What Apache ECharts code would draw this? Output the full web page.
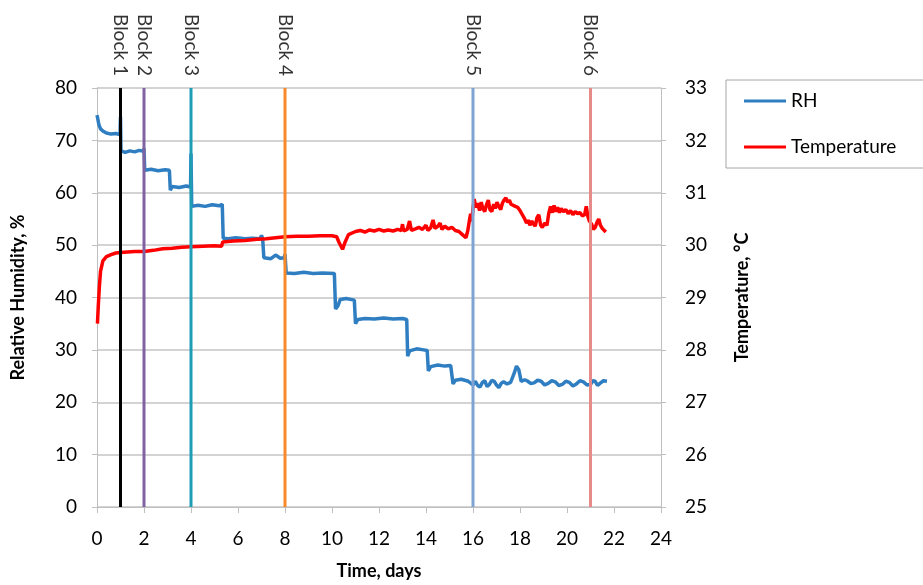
<!DOCTYPE html>
<html>
<head>
<meta charset="utf-8">
<script src="https://cdn.jsdelivr.net/npm/echarts@6/dist/echarts.min.js"></script>
<style>
  html, body { margin: 0; padding: 0; background: #fff; }
  #chart { width: 923px; height: 585px; }
</style>
</head>
<body>
<div id="chart"></div>
<script>
// Relative humidity readings: [day, %RH]
const rhData = [
  [0.00, 74.8], [0.03, 74.2], [0.08, 73.0], [0.15, 72.2], [0.25, 71.8], [0.40, 71.4],
  [0.60, 71.2], [0.80, 71.3], [0.98, 71.1], [1.00, 74.5], [1.02, 68.0], [1.20, 67.7],
  [1.40, 68.0], [1.60, 67.8], [1.80, 68.1], [1.98, 67.9], [2.00, 68.5], [2.03, 64.3],
  [2.30, 64.5], [2.60, 64.2], [2.90, 64.4], [3.08, 64.3], [3.12, 60.5], [3.20, 61.2],
  [3.50, 61.0], [3.80, 61.3], [3.98, 61.1], [4.00, 67.5], [4.03, 57.4], [4.30, 57.6],
  [4.60, 57.4], [4.90, 57.7], [5.20, 57.5], [5.33, 57.8], [5.37, 51.3], [5.60, 51.2],
  [5.90, 51.4], [6.30, 51.2], [6.60, 51.3], [6.95, 51.2], [7.00, 51.9], [7.05, 51.2],
  [7.10, 47.6], [7.40, 47.4], [7.60, 48.1], [7.80, 47.5], [7.97, 47.6], [8.00, 48.3],
  [8.05, 44.7], [8.40, 44.6], [8.80, 44.8], [9.20, 44.6], [9.60, 44.7], [10.10, 44.6],
  [10.15, 37.8], [10.25, 38.4], [10.35, 39.6], [10.60, 39.8], [10.95, 39.5], [11.00, 35.0],
  [11.10, 35.8], [11.40, 36.0], [11.80, 35.9], [12.20, 36.1], [12.60, 35.9], [13.00, 36.0],
  [13.18, 35.8], [13.22, 28.8], [13.30, 29.8], [13.60, 30.2], [13.90, 30.0], [14.05, 29.9],
  [14.10, 26.0], [14.20, 26.8], [14.50, 27.1], [14.80, 26.9], [15.05, 27.0], [15.15, 23.5],
  [15.25, 24.2], [15.50, 24.4], [15.80, 24.0], [16.00, 23.3], [16.10, 24.0], [16.20, 23.2],
  [16.30, 22.9], [16.40, 23.8], [16.50, 24.1], [16.60, 23.0], [16.70, 23.4], [16.80, 24.2],
  [16.90, 24.0], [17.00, 23.3], [17.10, 22.8], [17.20, 23.6], [17.30, 23.9], [17.45, 23.5],
  [17.60, 23.8], [17.75, 25.5], [17.85, 26.9], [17.95, 26.2], [18.05, 24.0], [18.20, 24.3],
  [18.30, 24.1], [18.45, 23.6], [18.60, 23.7], [18.75, 24.2], [18.90, 24.0], [19.05, 23.3],
  [19.20, 23.6], [19.35, 24.1], [19.50, 23.9], [19.65, 23.2], [19.80, 23.4], [19.95, 24.0],
  [20.10, 23.8], [20.25, 23.1], [20.40, 23.5], [20.55, 24.1], [20.70, 23.9], [20.85, 23.3],
  [21.00, 23.4], [21.10, 24.1], [21.20, 24.0], [21.30, 23.2], [21.40, 23.6], [21.55, 24.1],
  [21.70, 24.0]
];

// Temperature readings: [day, °C]
const tempData = [
  [0.02, 28.50], [0.05, 28.80], [0.10, 29.20], [0.15, 29.50], [0.25, 29.70], [0.40, 29.78],
  [0.60, 29.82], [0.80, 29.85], [1.00, 29.86], [1.30, 29.87], [1.60, 29.88], [2.00, 29.88],
  [2.40, 29.90], [2.80, 29.93], [3.20, 29.94], [3.60, 29.96], [4.00, 29.97], [4.50, 29.98],
  [5.00, 29.99], [5.30, 29.98], [5.35, 30.06], [5.80, 30.08], [6.30, 30.09], [6.80, 30.11],
  [7.20, 30.12], [7.60, 30.14], [8.00, 30.16], [8.50, 30.17], [9.00, 30.17], [9.50, 30.18],
  [10.00, 30.18], [10.20, 30.16], [10.30, 30.05], [10.45, 29.92], [10.55, 30.05], [10.70, 30.20],
  [11.00, 30.26], [11.20, 30.28], [11.40, 30.25], [11.60, 30.29], [11.80, 30.27], [12.00, 30.30],
  [12.20, 30.27], [12.40, 30.29], [12.60, 30.27], [12.80, 30.30], [12.95, 30.28], [13.00, 30.40],
  [13.05, 30.27], [13.20, 30.30], [13.30, 30.46], [13.38, 30.28], [13.55, 30.31], [13.70, 30.34],
  [13.85, 30.30], [14.00, 30.38], [14.08, 30.28], [14.20, 30.33], [14.30, 30.48], [14.38, 30.32],
  [14.50, 30.36], [14.60, 30.42], [14.68, 30.30], [14.80, 30.36], [14.95, 30.31], [15.10, 30.34],
  [15.25, 30.28], [15.40, 30.26], [15.55, 30.20], [15.70, 30.14], [15.78, 30.28], [15.85, 30.48],
  [15.90, 30.60], [15.95, 30.45], [16.00, 30.70], [16.05, 30.88], [16.12, 30.72], [16.20, 30.80],
  [16.28, 30.66], [16.35, 30.82], [16.42, 30.70], [16.50, 30.64], [16.58, 30.78], [16.65, 30.86],
  [16.72, 30.68], [16.80, 30.64], [16.88, 30.78], [16.95, 30.70], [17.02, 30.82], [17.10, 30.74],
  [17.18, 30.68], [17.25, 30.80], [17.32, 30.86], [17.40, 30.90], [17.48, 30.82], [17.55, 30.86],
  [17.62, 30.78], [17.70, 30.80], [17.80, 30.74], [17.90, 30.72], [18.00, 30.66], [18.10, 30.58],
  [18.20, 30.50], [18.28, 30.42], [18.35, 30.48], [18.42, 30.38], [18.50, 30.46], [18.58, 30.40],
  [18.65, 30.36], [18.72, 30.52], [18.80, 30.58], [18.88, 30.38], [18.95, 30.34], [19.05, 30.42],
  [19.15, 30.38], [19.22, 30.60], [19.30, 30.74], [19.38, 30.62], [19.45, 30.76], [19.52, 30.64],
  [19.60, 30.72], [19.68, 30.62], [19.75, 30.70], [19.85, 30.64], [19.95, 30.68], [20.05, 30.60],
  [20.15, 30.66], [20.25, 30.58], [20.35, 30.64], [20.45, 30.60], [20.55, 30.62], [20.65, 30.56],
  [20.75, 30.58], [20.82, 30.74], [20.88, 30.56], [20.95, 30.46], [21.05, 30.40], [21.12, 30.30],
  [21.20, 30.34], [21.28, 30.44], [21.35, 30.50], [21.42, 30.38], [21.50, 30.32], [21.58, 30.30],
  [21.65, 30.25]
];

// Block start days and their labels
const blockDays = [1, 2, 4, 8, 16, 21];
const blockNames = ['Block 1', 'Block 2', 'Block 3', 'Block 4', 'Block 5', 'Block 6'];
const blockColors = ['#000000', '#8064a2', '#1f9db5', '#f7892a', '#7fa3d3', '#e8898a'];

// Axis ranges
const rhRange = [0, 80];
const tempRange = [25, 33];
const dayRange = [0, 24];

const FONT = "Lato, 'Liberation Sans', Arial, sans-serif";
const chart = echarts.init(document.getElementById('chart'));

const blockLineSeries = blockDays.map((d, i) => ({
  name: blockNames[i],
  type: 'line',
  data: [[d, rhRange[0]], [d, rhRange[1]]],
  showSymbol: false,
  symbol: 'none',
  silent: true,
  z: 5,
  lineStyle: { color: blockColors[i], width: 3 },
  itemStyle: { color: blockColors[i] }
}));

const blockLabelSeries = {
  name: 'blockLabels',
  type: 'scatter',
  symbolSize: 0,
  silent: true,
  clip: false,
  data: blockDays.map((d, i) => ({ value: [d, rhRange[1]], name: blockNames[i] })),
  label: {
    show: true,
    position: 'top',
    distance: 12,
    rotate: -90,
    align: 'right',
    verticalAlign: 'middle',
    formatter: p => p.name,
    color: '#000',
    fontSize: 19,
    fontFamily: FONT
  }
};

chart.setOption({
  animation: false,
  backgroundColor: '#fff',
  grid: { left: 97, right: 262, top: 88, bottom: 75 },
  legend: {
    data: ['RH', 'Temperature'],
    orient: 'vertical',
    left: 726,
    top: 80,
    padding: [10, 40, 10, 18],
    itemGap: 24,
    itemWidth: 42,
    itemHeight: 3,
    icon: 'rect',
    borderColor: '#a6a6a6',
    borderWidth: 1,
    textStyle: { color: '#000', fontSize: 19, fontFamily: FONT, lineHeight: 22 }
  },
  xAxis: {
    type: 'value',
    min: dayRange[0],
    max: dayRange[1],
    interval: 2,
    name: 'Time, days',
    nameLocation: 'middle',
    nameGap: 55,
    nameTextStyle: { color: '#000', fontSize: 18, fontWeight: 'bold', fontFamily: FONT },
    axisLine: { show: true, lineStyle: { color: '#bfbfbf', width: 1 } },
    axisTick: { show: true, length: 6, lineStyle: { color: '#bfbfbf' } },
    axisLabel: { margin: 22, color: '#000', fontSize: 19, fontFamily: FONT },
    splitLine: { show: false }
  },
  yAxis: [
    {
      type: 'value',
      min: rhRange[0],
      max: rhRange[1],
      interval: 10,
      name: 'Relative Humidity, %',
      nameLocation: 'middle',
      nameRotate: 90,
      nameGap: 70,
      nameTextStyle: { color: '#000', fontSize: 18, fontWeight: 'bold', fontFamily: FONT },
      axisLine: { show: true, lineStyle: { color: '#bfbfbf', width: 1 } },
      axisTick: { show: true, length: 5, lineStyle: { color: '#bfbfbf' } },
      axisLabel: { margin: 20, color: '#000', fontSize: 19, fontFamily: FONT },
      splitLine: { show: true, lineStyle: { color: '#c4c4c4', width: 1.5 } }
    },
    {
      type: 'value',
      min: tempRange[0],
      max: tempRange[1],
      interval: 1,
      position: 'right',
      name: 'Temperature, °C',
      nameLocation: 'middle',
      nameRotate: 90,
      nameGap: 72,
      nameTextStyle: { color: '#000', fontSize: 18, fontWeight: 'bold', fontFamily: FONT },
      axisLine: { show: true, lineStyle: { color: '#bfbfbf', width: 1 } },
      axisTick: { show: true, length: 5, lineStyle: { color: '#bfbfbf' } },
      axisLabel: { margin: 24, color: '#000', fontSize: 19, fontFamily: FONT },
      splitLine: { show: false }
    }
  ],
  series: [
    {
      name: 'RH',
      type: 'line',
      data: rhData,
      yAxisIndex: 0,
      showSymbol: false,
      symbol: 'none',
      z: 3,
      lineStyle: { color: '#2e7ec1', width: 3.5 },
      itemStyle: { color: '#2e7ec1' }
    },
    {
      name: 'Temperature',
      type: 'line',
      data: tempData,
      yAxisIndex: 1,
      showSymbol: false,
      symbol: 'none',
      z: 4,
      lineStyle: { color: '#ff0000', width: 3.5 },
      itemStyle: { color: '#ff0000' }
    },
    ...blockLineSeries,
    blockLabelSeries
  ]
});
</script>
</body>
</html>
